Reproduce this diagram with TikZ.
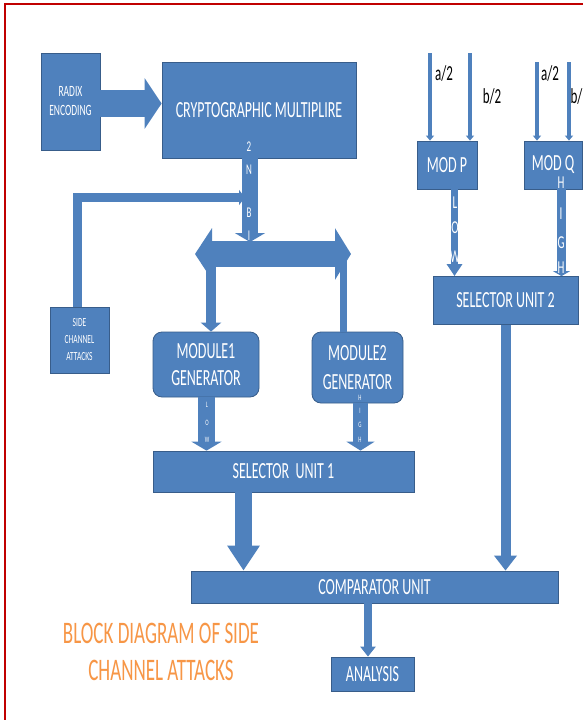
\documentclass[tikz,border=0pt]{standalone}
\usepackage{fontspec}
\setmainfont{Carlito}
\usepackage{xcolor}
\usetikzlibrary{arrows.meta,calc}
\definecolor{boxblue}{HTML}{4F81BD}
\definecolor{boxedge}{HTML}{385D8A}
\definecolor{framered}{HTML}{C00000}
\definecolor{titleorange}{HTML}{F79646}
\newcommand{\vtx}[1]{\scalebox{1}[1.65]{#1}}

\begin{document}
\begin{tikzpicture}[x=1pt,y=-1pt,
	box/.style={rectangle,fill=boxblue,draw=boxedge,line width=0.8pt,inner sep=0pt,text=white,align=center,font=\fontsize{14}{28}\selectfont},
	tag/.style={inner sep=0pt,text=white,font=\fontsize{9}{9}\selectfont},
	frac/.style={inner sep=0pt,text=black,font=\fontsize{13}{13}\selectfont},
	barrow/.style n args={3}{draw=boxblue,line width=#1,-{Triangle[length=#3,width=#2]}}]
		\clip (0,0) rectangle (583,720);
		\fill[white] (0,0) rectangle (583,720);
		\draw[framered,line width=2.5pt] (5,722) -- (5,4) -- (585,4);
		\node[box,minimum width=59pt,minimum height=97pt,font=\fontsize{9.5}{19}\selectfont] (radix) at (70.5,101.5) {\vtx{RADIX}\\\vtx{ENCODING}};
		\node[box,minimum width=194pt,minimum height=96pt] (crypt) at (259,110) {\vtx{CRYPTOGRAPHIC MULTIPLIRE}};
		\node[box,minimum width=60pt,minimum height=48pt] (modp) at (447,165) {\vtx{MOD P}};
		\node[box,minimum width=58pt,minimum height=48pt] (modq) at (553,165) {\vtx{MOD Q}};
		\node[box,minimum width=145pt,minimum height=48pt] (sel2) at (505.5,300.5) {\vtx{SELECTOR UNIT 2}};
		\node[box,minimum width=59pt,minimum height=66pt,font=\fontsize{7.5}{17}\selectfont] (sca) at (79.5,340) {\vtx{SIDE}\\\vtx{CHANNEL}\\\vtx{ATTACKS}};
		\node[box,rounded corners=9pt,minimum width=106pt,minimum height=65pt,font=\fontsize{14}{27}\selectfont] (mod1) at (206,364.5) {\vtx{MODULE1}\\\vtx{GENERATOR}};
		\node[box,rounded corners=9pt,minimum width=91pt,minimum height=71pt,font=\fontsize{14}{29}\selectfont] (mod2) at (357.5,367.5) {\vtx{MODULE2}\\\vtx{GENERATOR}};
		\node[box,minimum width=261pt,minimum height=41pt] (sel1) at (283.5,471.5) {\vtx{SELECTOR~ UNIT 1}};
		\node[box,minimum width=367pt,minimum height=32pt] (comp) at (374.5,587) {\vtx{COMPARATOR UNIT}};
		\node[box,minimum width=83pt,minimum height=34pt] (anal) at (372.5,674) {\vtx{ANALYSIS}};
		\node[inner sep=0pt,text=titleorange,align=center,font=\fontsize{19}{37}\selectfont] (title) at (161,651.5) {\vtx{BLOCK DIAGRAM OF SIDE}\\\vtx{CHANNEL ATTACKS}};
		\coordinate (busl) at (195,254);
		\coordinate (busr) at (351,254);
		\coordinate (busin) at (250,242);
		\coordinate (fbin) at (245,197.5);
		\coordinate (pa) at (430,53);
		\coordinate (pb) at (470,53);
		\coordinate (qa) at (537,62);
		\coordinate (qb) at (569,62);
		\draw[barrow={27pt}{50pt}{17pt}] (radix.east |- 0,103.5) -- (crypt.west |- 0,103.5);
		\draw[barrow={9pt}{15pt}{6pt}] (77.5,0 |- sca.north) |- (fbin);
		\draw[draw=boxblue,line width=26pt,{Triangle[length=17pt,width=51pt]}-{Triangle[length=16pt,width=51pt]}] (busl) -- (busr);
		\draw[barrow={16pt}{30pt}{9pt}] (busin |- crypt.south) -- (busin);
		\draw[barrow={10pt}{20pt}{9pt}] (busl -| 211,0) -- (211,0 |- mod1.north);
		\draw[draw=boxblue,line width=7pt] (busr -| 343.5,0) -- (343.5,0 |- mod2.north);
		\draw[barrow={17pt}{30pt}{9pt}] (206.5,0 |- mod1.south) -- (206.5,0 |- sel1.north);
		\draw[barrow={15pt}{28pt}{9pt}] (360.5,0 |- mod2.south) -- (360.5,0 |- sel1.north);
		\draw[barrow={17pt}{31pt}{25pt}] (243.5,0 |- sel1.south) -- (243.5,0 |- comp.north);
		\draw[barrow={4pt}{8pt}{5pt}] (pa) -- (pa |- modp.north);
		\draw[barrow={4pt}{8pt}{5pt}] (pb) -- (pb |- modp.north);
		\draw[barrow={4pt}{8pt}{5pt}] (qa) -- (qa |- modq.north);
		\draw[barrow={4pt}{8pt}{5pt}] (qb) -- (qb |- modq.north);
		\draw[barrow={7.5pt}{15pt}{12pt}] (454.5,0 |- modp.south) -- (454.5,0 |- sel2.north);
		\draw[barrow={9pt}{17pt}{5pt}] (561.5,0 |- modq.south) -- (561.5,0 |- sel2.north);
		\draw[barrow={10pt}{22pt}{15pt}] (sel2.south) -- (sel2.south |- comp.north);
		\draw[barrow={8pt}{15pt}{10pt}] (368,0 |- comp.south) -- (368,0 |- anal.north);
		\node[frac] (pa2) at (444,73.5) {\vtx{a/2}};
		\node[frac] (pb2) at (492,97) {\vtx{b/2}};
		\node[frac] (qa2) at (550,73.5) {\vtx{a/2}};
		\node[frac] (qb2) at (576.5,97) {\vtx{b/}};
		\node[tag] (c2) at (249,147) {\vtx{2}};
		\node[tag] (cn) at (249,170) {\vtx{N}};
		\node[tag] (cb) at (249,213) {\vtx{B}};
		\node[tag] (ci) at (249,236) {\vtx{I}};
		\node[tag,font=\fontsize{11}{11}\selectfont] (pl) at (455,203) {\vtx{L}};
		\node[tag,font=\fontsize{11}{11}\selectfont] (po) at (455,228) {\vtx{O}};
		\node[tag,font=\fontsize{11}{11}\selectfont] (pw) at (455,257) {\vtx{W}};
		\node[tag,font=\fontsize{11}{11}\selectfont] (qh) at (561,183) {\vtx{H}};
		\node[tag,font=\fontsize{11}{11}\selectfont] (qi) at (561,214) {\vtx{I}};
		\node[tag,font=\fontsize{11}{11}\selectfont] (qg) at (561,243) {\vtx{G}};
		\node[tag,font=\fontsize{11}{11}\selectfont] (qh2) at (561,268) {\vtx{H}};
		\node[tag,font=\fontsize{5}{5}\selectfont] (ml) at (207,405) {\vtx{L}};
		\node[tag,font=\fontsize{5}{5}\selectfont] (mo) at (207,423) {\vtx{O}};
		\node[tag,font=\fontsize{5}{5}\selectfont] (mw) at (207,440) {\vtx{W}};
		\node[tag,font=\fontsize{5}{5}\selectfont] (nh) at (360,398) {\vtx{H}};
		\node[tag,font=\fontsize{5}{5}\selectfont] (ni) at (360,411) {\vtx{I}};
		\node[tag,font=\fontsize{5}{5}\selectfont] (ng) at (360,425) {\vtx{G}};
		\node[tag,font=\fontsize{5}{5}\selectfont] (nh2) at (360,440) {\vtx{H}};
	\end{tikzpicture}
\end{document}
